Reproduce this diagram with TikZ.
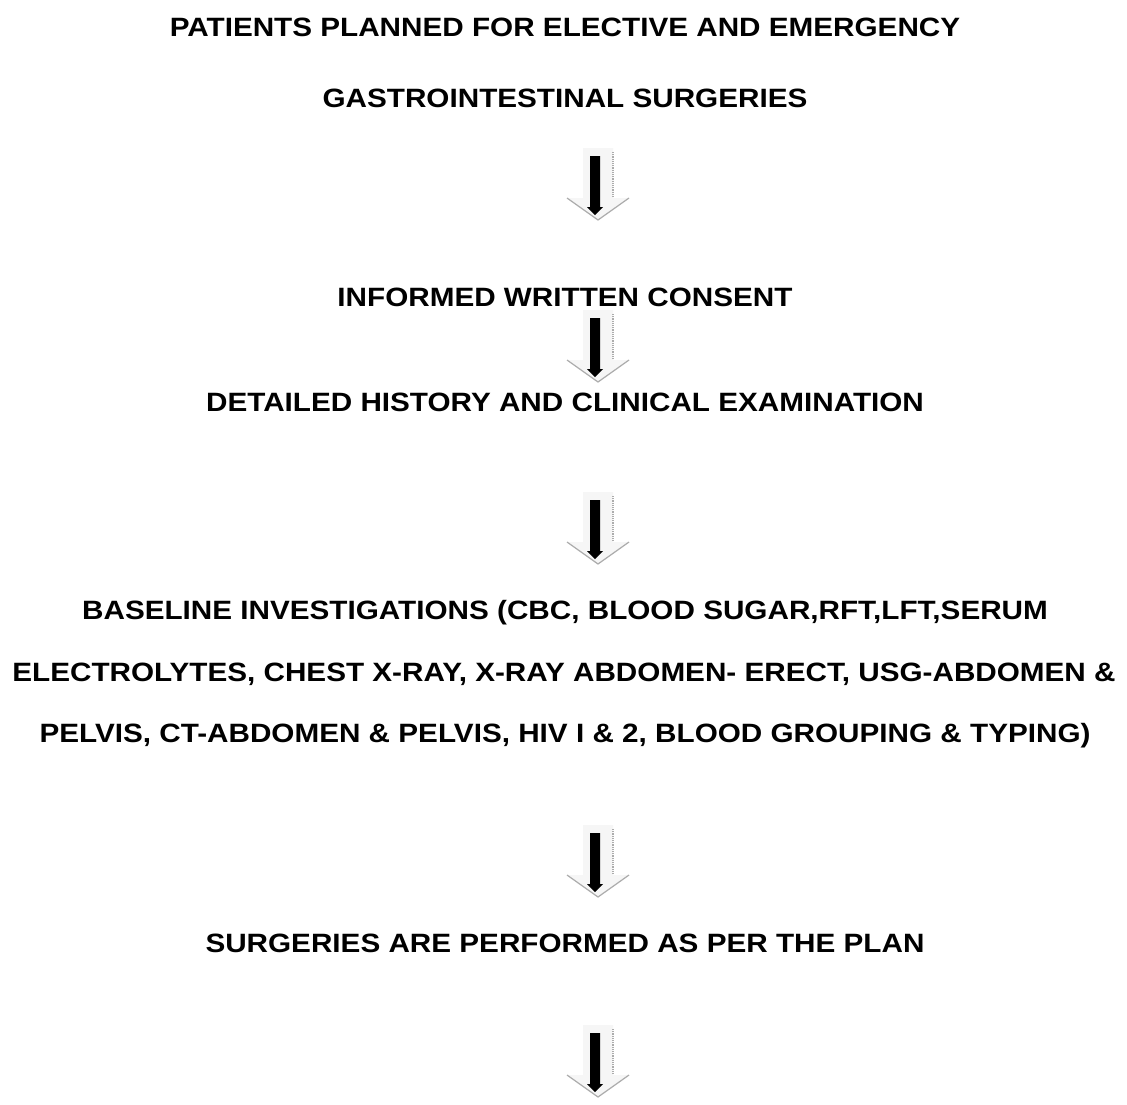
\documentclass[tikz,border=0pt]{standalone}
\usepackage{fontspec}
\setmainfont{Liberation Sans}[FakeStretch=1.12]
\begin{document}
\begin{tikzpicture}[x=1pt,y=-1pt,
  lbl/.style={font=\bfseries\fontsize{26.5}{30}\selectfont, inner sep=0pt, anchor=base},
  lightfill/.style={fill=gray!7},
  shadowline/.style={draw=gray!65, line width=1.2pt},
  ]
\useasboundingbox (0,0) rectangle (1127,1104);
\fill[white] (0,0) rectangle (1127,1104);
\newcommand\flowarrow[1]{%
 \begin{scope}[shift={(#1)}]
  \fill[lightfill] (-15,0) -- (15,0) -- (15,50) -- (31,50) -- (0,72) -- (-31,50) -- (-15,50) -- cycle;
  \draw[shadowline, densely dotted] (15,4) -- (15,50);
  \draw[shadowline] (31,50) -- (0,72) -- (-31,50);
  \fill[black] (-8,8) -- (2,8) -- (2,59) -- (5,59) -- (-3,67) -- (-11,59) -- (-8,59) -- cycle;
 \end{scope}}
\node[lbl] (t1) at (565,36) {PATIENTS PLANNED FOR ELECTIVE AND EMERGENCY};
\node[lbl] (t2) at (565,107) {GASTROINTESTINAL SURGERIES};
\node[lbl] (consent) at (565,306) {INFORMED WRITTEN CONSENT};
\node[lbl] (hist) at (565,411) {DETAILED HISTORY AND CLINICAL EXAMINATION};
\node[lbl] (b1) at (565,619) {BASELINE INVESTIGATIONS (CBC, BLOOD SUGAR,RFT,LFT,SERUM};
\node[lbl] (b2) at (564,681) {ELECTROLYTES, CHEST X-RAY, X-RAY ABDOMEN- ERECT, USG-ABDOMEN \&};
\node[lbl] (b3) at (565,742) {PELVIS, CT-ABDOMEN \& PELVIS, HIV I \& 2, BLOOD GROUPING \& TYPING)};
\node[lbl] (surg) at (565,952) {SURGERIES ARE PERFORMED AS PER THE PLAN};
\coordinate (a1) at (598,148);
\coordinate (a2) at (598,310);
\coordinate (a3) at (598,492);
\coordinate (a4) at (598,825);
\coordinate (a5) at (598,1025);
\flowarrow{a1}
\flowarrow{a2}
\flowarrow{a3}
\flowarrow{a4}
\flowarrow{a5}
\end{tikzpicture}
\end{document}
